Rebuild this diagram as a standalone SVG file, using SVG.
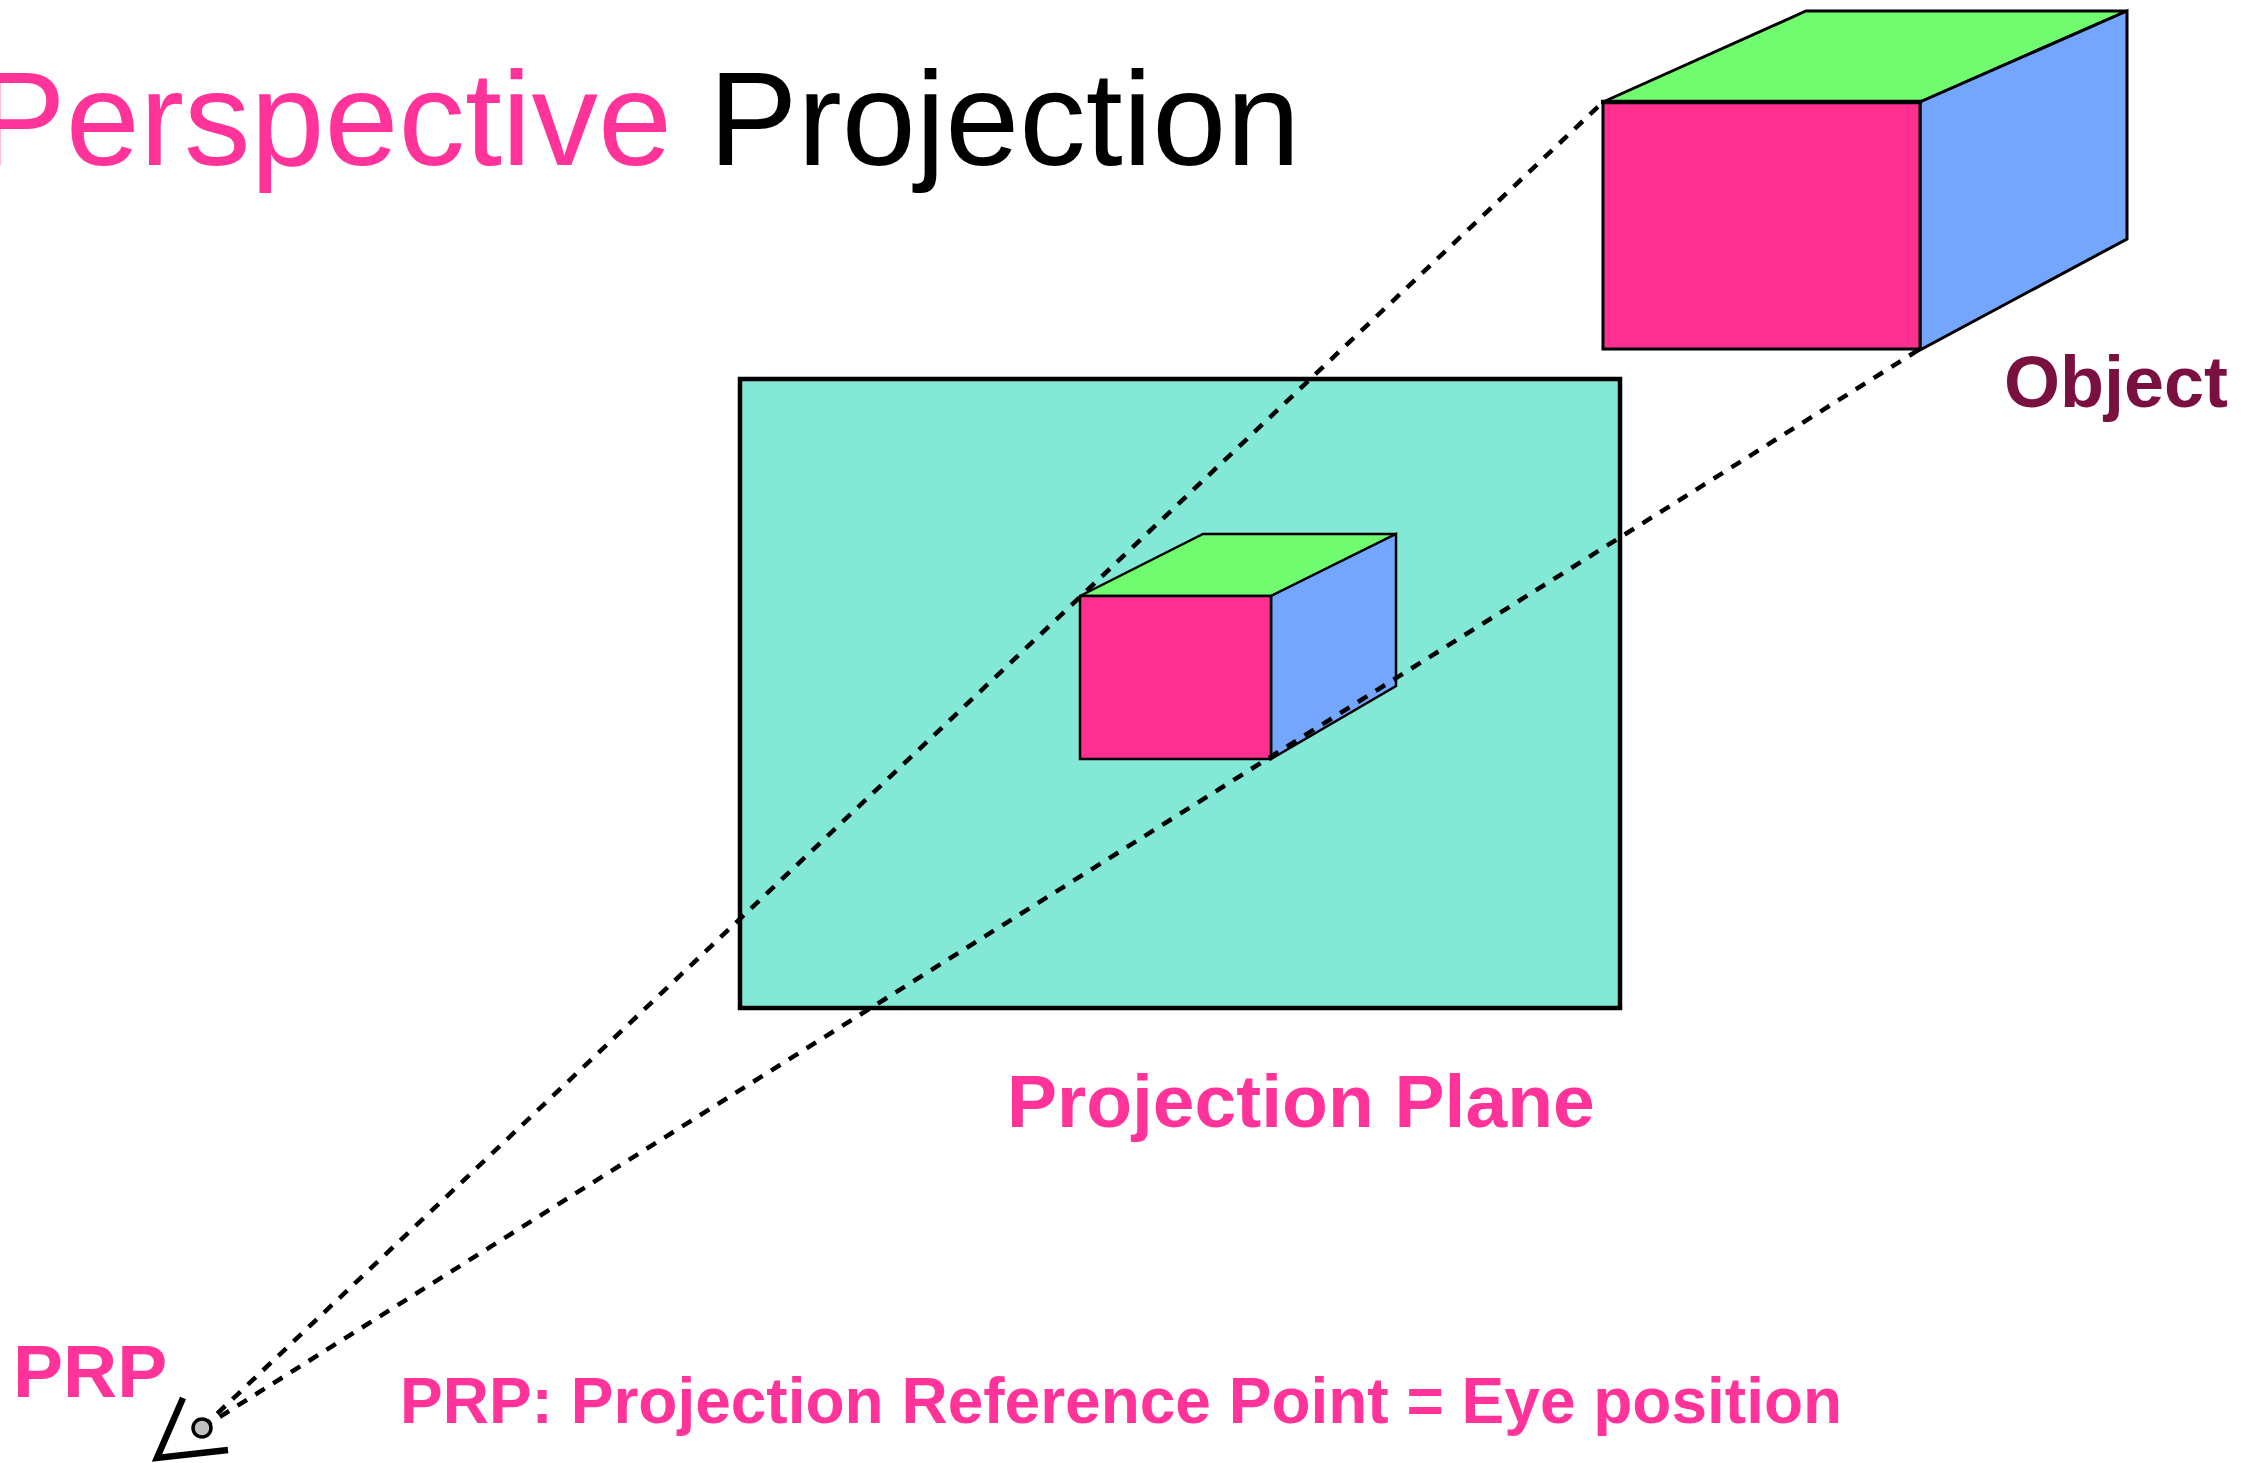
<svg xmlns="http://www.w3.org/2000/svg" width="2266" height="1463" viewBox="0 0 2266 1463">
<style>
.edge{stroke:#000;stroke-linejoin:miter}
.front{fill:#FF3090}
.top{fill:#70FC6E}
.side{fill:#75A6FE}
.lbl{font-family:"Liberation Sans",Arial,sans-serif;font-weight:bold;fill:#FF3399}
.ray{fill:none;stroke:#000;stroke-width:4.5;stroke-dasharray:11 10}
</style>
<rect width="2266" height="1463" fill="#fff"/>
<g id="title">
<text x="-23" y="165" font-family="Liberation Sans, Arial, sans-serif" font-size="133"><tspan fill="#FF3399">Perspective</tspan> <tspan fill="#000">Projection</tspan></text>
</g>
<g id="object">
<polygon class="top edge" stroke-width="3" points="1603,102 1806,11 2127,11 1920,102"/>
<polygon class="side edge" stroke-width="3" points="1920,102 2127,11 2127,239 1920,350"/>
<rect class="front edge" stroke-width="3" x="1603" y="102" width="317" height="247"/>
<line x1="1601" y1="102" x2="1922" y2="102" stroke="#000" stroke-width="4.5"/>
<text class="lbl" x="2004" y="407" font-size="72" style="fill:#7A1040">Object</text>
</g>
<g id="plane">
<rect x="740" y="379" width="880" height="629" fill="#84E8D6" stroke="#000" stroke-width="4.5"/>
<text class="lbl" x="1007" y="1127" font-size="75">Projection Plane</text>
</g>
<g id="image">
<polygon class="top edge" stroke-width="2.5" points="1080,596 1203,534 1396,534 1271,596"/>
<polygon class="side edge" stroke-width="2.5" points="1271,596 1396,534 1396,686 1271,759"/>
<rect class="front edge" stroke-width="2.5" x="1080" y="596" width="191" height="163"/>
</g>
<g id="connectors">
<line class="ray" x1="202" y1="1428" x2="1603" y2="102"/>
<line class="ray" x1="202" y1="1428" x2="1920" y2="349"/>
</g>
<g id="prp">
<polyline points="183,1398 157,1458 228,1450" fill="none" stroke="#000" stroke-width="6.5"/>
<circle cx="202" cy="1428" r="9" fill="#C0C0C0" stroke="#000" stroke-width="3.5"/>
<text class="lbl" x="13" y="1397" font-size="75">PRP</text>
</g>
<g id="note">
<text class="lbl" x="400" y="1423" font-size="64">PRP: Projection Reference Point = Eye position</text>
</g>
</svg>
